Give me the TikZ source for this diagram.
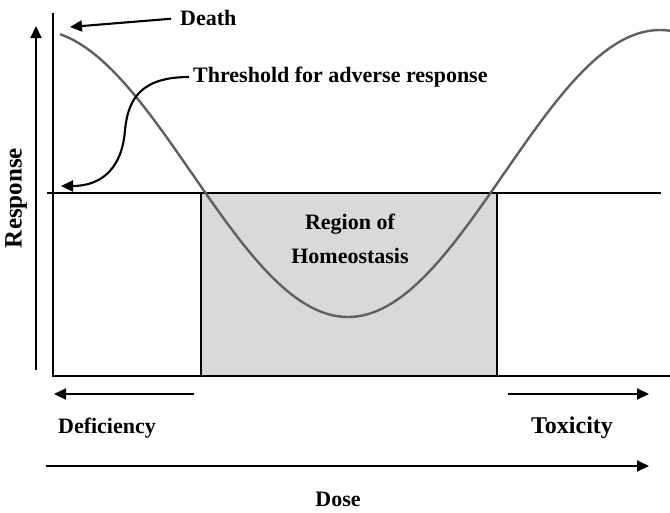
\documentclass[tikz,border=0pt]{standalone}
\usepackage{xcolor}
\usepackage{fontspec}
\setmainfont{Liberation Serif}
\usetikzlibrary{arrows.meta}

\definecolor{homeogray}{HTML}{D9D9D9}
\definecolor{curvegray}{HTML}{606060}

\tikzset{
  lbl/.style={font=\fontsize{22}{27}\selectfont\bfseries, inner sep=0pt},
  arr/.style={line width=2.1pt, -{Triangle[length=12pt,width=11pt]}}
}

\begin{document}
\begin{tikzpicture}[x=1pt,y=-1pt]
  \useasboundingbox (0,0) rectangle (670,512);

  % Shaded box for the homeostasis region
  \filldraw[fill=homeogray, draw=black, line width=2.8pt] (201,193) rectangle (497,376);

  % Axes and threshold line
  \draw[line width=1.5pt] (47,193) -- (661,193);
  \draw[line width=2.4pt] (53,13) -- (53,376) -- (670,376);

  % Dose response curve
  \draw[curvegray, line width=2.4pt, domain=60:670, samples=120]
    plot (\x, {173.5+143.5*cos(0.5769*(\x-348))});

  % Labels
  \node[lbl, anchor=west] (death) at (180,18) {Death};
  \node[lbl, anchor=west] (thresh) at (193,77) {Threshold for adverse response};
  \node[lbl, align=center, font=\fontsize{22}{34}\selectfont\bfseries] (region) at (350,239) {Region of\\Homeostasis};
  \node[lbl, rotate=90, font=\fontsize{25}{30}\selectfont\bfseries] (resp) at (16,198) {Response};
  \node[lbl] (defic) at (107,428) {Deficiency};
  \node[lbl, font=\fontsize{24}{29}\selectfont\bfseries] (toxic) at (572,428) {Toxicity};
  \node[lbl] (dose) at (338,499) {Dose};

  % Arrow ends
  \coordinate (deathtip) at (70,27);
  \coordinate (threshtip) at (61,186);
  \coordinate (respbot) at (36,370);
  \coordinate (resptop) at (36,26);
  \coordinate (deficstart) at (194,394);
  \coordinate (deficend) at (54,394);
  \coordinate (toxicstart) at (508,394);
  \coordinate (toxicend) at (649,394);
  \coordinate (dosestart) at (46,466);
  \coordinate (doseend) at (649,466);

  % Arrows
  \draw[arr, shorten <=9pt] (death.west) -- (deathtip);
  \draw[arr, shorten <=4pt] (thresh.west) .. controls (140,77) and (128,100) .. (125,130)
    .. controls (122,170) and (100,186) .. (threshtip);
  \draw[arr] (respbot) -- (resptop);
  \draw[arr] (deficstart) -- (deficend);
  \draw[arr] (toxicstart) -- (toxicend);
  \draw[arr] (dosestart) -- (doseend);
\end{tikzpicture}
\end{document}
